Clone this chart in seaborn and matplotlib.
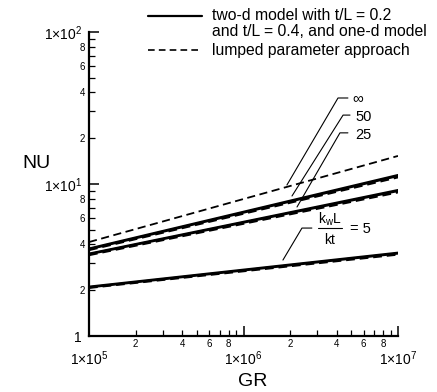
import numpy as np
import pandas as pd
import matplotlib
matplotlib.use("Agg")
import matplotlib.pyplot as plt
import seaborn as sns
from matplotlib.ticker import LogLocator, FuncFormatter, NullFormatter
from matplotlib.lines import Line2D

# ---- data ----
gr_ends = [1e5, 1e7]
nu_inf_lumped = [4.15, 15.3]
nu_50_tl02 = [3.76, 11.45]
nu_50_tl04 = [3.72, 11.3]
nu_50_lumped = [3.67, 11.05]
nu_25_tl02 = [3.48, 9.12]
nu_25_tl04 = [3.45, 9.0]
nu_25_lumped = [3.40, 8.8]
nu_5_tl02 = [2.11, 3.53]
nu_5_tl04 = [2.09, 3.49]
nu_5_lumped = [2.07, 3.43]

curve_labels = ["\u221e", "50", "25"]
legend_lines = ["two-d model with t/L = 0.2", "and t/L = 0.4, and one-d model",
                "lumped parameter approach"]

sns.set_theme(style="ticks")
plt.rcParams["font.family"] = ["Liberation Sans", "DejaVu Sans"]
plt.rcParams["mathtext.fontset"] = "custom"
plt.rcParams["mathtext.rm"] = "Liberation Sans"
plt.rcParams["mathtext.it"] = "Liberation Sans"
plt.rcParams["text.color"] = "black"
plt.rcParams["axes.labelcolor"] = "black"

W, H = 437, 392
fig = plt.figure(figsize=(W / 100, H / 100), dpi=100)
ax = fig.add_axes([89 / W, 56 / H, 309 / W, 304 / H])

solid = [nu_50_tl02, nu_50_tl04, nu_25_tl02, nu_25_tl04, nu_5_tl02, nu_5_tl04]
dashed = [nu_inf_lumped, nu_50_lumped, nu_25_lumped, nu_5_lumped]
for vals in solid:
    sns.lineplot(x=gr_ends, y=vals, ax=ax, color="black", lw=1.6)
for i, vals in enumerate(dashed):
    sns.lineplot(x=gr_ends, y=vals, ax=ax, color="black", lw=1.3 if i == 0 else 1.4,
                 linestyle=(0, (4.5, 2.5)))

ax.set_xscale("log")
ax.set_yscale("log")
ax.set_xlim(1e5, 1e7)
ax.set_ylim(1, 100)

for s in ["top", "right"]:
    ax.spines[s].set_visible(False)
for s in ["left", "bottom"]:
    ax.spines[s].set_linewidth(1.6)
    ax.spines[s].set_color("black")

def major_fmt(v, pos):
    e = int(round(np.log10(v)))
    if e == 0:
        return "1"
    return r"1$\times$10$^{%d}$" % e

def minor_fmt(v, pos):
    e = np.floor(np.log10(v) + 1e-9)
    m = int(round(v / 10 ** e))
    return str(m) if m in (2, 4, 6, 8) else ""

for axis in (ax.xaxis, ax.yaxis):
    axis.set_major_locator(LogLocator(base=10, numticks=10))
    axis.set_minor_locator(LogLocator(base=10, subs=np.arange(2, 10), numticks=20))
    axis.set_major_formatter(FuncFormatter(major_fmt))
    axis.set_minor_formatter(FuncFormatter(minor_fmt))

ax.tick_params(which="both", direction="in", color="black", labelcolor="black")
ax.tick_params(which="major", length=7, width=1.1, labelsize=10)
ax.tick_params(which="minor", length=4, width=0.9, labelsize=7)
ax.tick_params(axis="x", which="major", pad=10)
ax.tick_params(axis="x", which="minor", pad=2)
ax.tick_params(axis="y", which="major", pad=5)
ax.tick_params(axis="y", which="minor", pad=3)
ax.grid(False)

# axis titles
fig.text(36 / W, 1 - 163 / H, "NU", ha="center", va="center", fontsize=14)
fig.text(253 / W, 1 - 382 / H, "GR", ha="center", va="center", fontsize=14)

# legend (drawn manually)
fig.add_artist(Line2D([148 / W, 202 / W], [1 - 16 / H, 1 - 16 / H], color="black", lw=1.6))
fig.add_artist(Line2D([148 / W, 202 / W], [1 - 50 / H, 1 - 50 / H], color="black", lw=1.2,
                      linestyle=(0, (4, 2.5))))
fig.text(212 / W, 1 - 16 / H, legend_lines[0], ha="left", va="center", fontsize=11.3)
fig.text(212 / W, 1 - 32 / H, legend_lines[1], ha="left", va="center", fontsize=11.3)
fig.text(212 / W, 1 - 50 / H, legend_lines[2], ha="left", va="center", fontsize=11.3)

# leader lines and curve labels
leaders = [
    ([1.91e6, 4.09e6, 4.74e6], [9.85, 36.8, 36.8]),
    ([2.06e6, 4.41e6, 4.89e6], [8.34, 28.4, 28.4]),
    ([2.22e6, 4.21e6, 4.74e6], [7.06, 21.7, 21.7]),
    ([1.80e6, 2.39e6, 2.77e6], [3.16, 5.13, 5.13]),
]
for xs, ys in leaders:
    ax.plot(xs, ys, color="black", lw=0.8)
label_pos = [(5.04e6, 37.0), (5.27e6, 27.8), (5.27e6, 21.0)]
for lab, (x, y) in zip(curve_labels, label_pos):
    ax.text(x, y, lab, ha="left", va="center", fontsize=11 if lab == "\u221e" else 10.5)

ax.text(3.63e6, 5.85, r"k$_{\mathrm{w}}$L", ha="center", va="center", fontsize=10)
ax.plot([3.03e6, 4.34e6], [5.13, 5.13], color="black", lw=0.8)
ax.text(3.63e6, 4.3, "kt", ha="center", va="center", fontsize=10)
ax.text(4.89e6, 5.08, "= 5", ha="left", va="center", fontsize=10.5)

fig.savefig("out.png", dpi=100)
